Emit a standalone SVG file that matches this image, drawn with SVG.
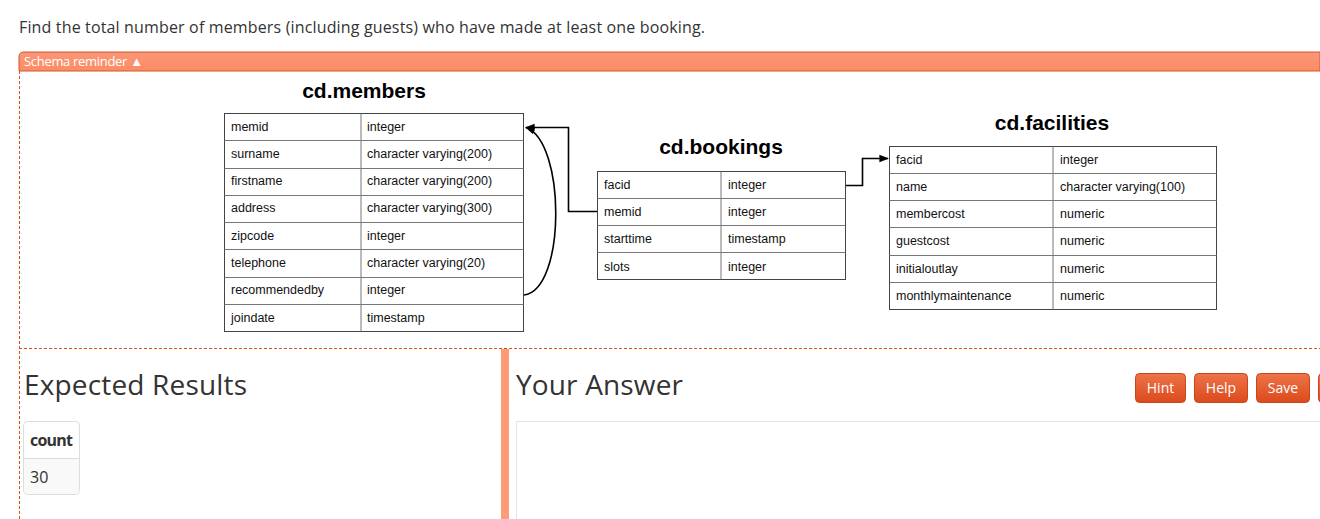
<svg xmlns="http://www.w3.org/2000/svg" width="1320" height="519" viewBox="0 0 1320 519">
<defs>
<style>
.ui{font-family:"Open Sans","Noto Sans",sans-serif;fill:#333}
.t{font-family:"Liberation Sans",Arial,sans-serif;font-size:12.5px;fill:#111}
.title{font-family:"Liberation Sans",Arial,sans-serif;font-size:21px;font-weight:bold;fill:#000;text-anchor:middle}
.tb{fill:#fff;stroke:#444;stroke-width:1}
.rl{stroke:#777;stroke-width:1}
.cn{fill:none;stroke:#000;stroke-width:1.6}
.btn{fill:url(#bg);stroke:#c8461a;stroke-width:1}
.bt{font-family:"Open Sans","Noto Sans",sans-serif;font-size:14px;fill:#fff;text-anchor:middle}
</style>
<linearGradient id="bg" x1="0" y1="0" x2="0" y2="1"><stop offset="0" stop-color="#ec7448"/><stop offset="1" stop-color="#dc4a1c"/></linearGradient>
<linearGradient id="hg" x1="0" y1="0" x2="0" y2="1"><stop offset="0" stop-color="#f9967a"/><stop offset="1" stop-color="#fd8c62"/></linearGradient>
<marker id="ar" viewBox="0 0 10 10" refX="9" refY="5" markerWidth="6" markerHeight="6" orient="auto"><path d="M0,1 L10,5 L0,9 z" fill="#000"/></marker>
</defs>
<rect width="1320" height="519" fill="#fff"/>
<text class="ui" x="19" y="33" font-size="16" textLength="686">Find the total number of members (including guests) who have made at least one booking.</text>
<path d="M19,71 V57 Q19,52 24,52 H1320 V71 Z" fill="url(#hg)" stroke="#d0582a" stroke-width="1"/>
<text x="24" y="66" font-family="'Open Sans','Noto Sans',sans-serif" font-size="13" fill="#fff" textLength="119">Schema reminder ▲</text>
<line x1="19.5" y1="71" x2="19.5" y2="519" stroke="#d9501e" stroke-dasharray="3,2"/>
<line x1="19" y1="348.5" x2="1320" y2="348.5" stroke="#d9501e" stroke-dasharray="3,2"/>

<g id="members">
<text class="title" x="364" y="98">cd.members</text>
<rect class="tb" x="224.5" y="113.5" width="299" height="218"/>
<g class="rl"><line x1="361" y1="113.5" x2="361" y2="331.5"/><line x1="224.5" y1="140.5" x2="523.5" y2="140.5"/><line x1="224.5" y1="168.5" x2="523.5" y2="168.5"/><line x1="224.5" y1="195.5" x2="523.5" y2="195.5"/><line x1="224.5" y1="222.5" x2="523.5" y2="222.5"/><line x1="224.5" y1="249.5" x2="523.5" y2="249.5"/><line x1="224.5" y1="277.5" x2="523.5" y2="277.5"/><line x1="224.5" y1="304.5" x2="523.5" y2="304.5"/></g>
<g class="t">
<text x="231" y="131">memid</text><text x="367" y="131">integer</text>
<text x="231" y="158">surname</text><text x="367" y="158">character varying(200)</text>
<text x="231" y="185">firstname</text><text x="367" y="185">character varying(200)</text>
<text x="231" y="212">address</text><text x="367" y="212">character varying(300)</text>
<text x="231" y="240">zipcode</text><text x="367" y="240">integer</text>
<text x="231" y="267">telephone</text><text x="367" y="267">character varying(20)</text>
<text x="231" y="294">recommendedby</text><text x="367" y="294">integer</text>
<text x="231" y="322">joindate</text><text x="367" y="322">timestamp</text>
</g>
</g>

<g id="bookings">
<text class="title" x="721" y="154">cd.bookings</text>
<rect class="tb" x="597.5" y="171.5" width="248" height="108"/>
<g class="rl"><line x1="721" y1="171.5" x2="721" y2="279.5"/><line x1="597.5" y1="198.5" x2="845.5" y2="198.5"/><line x1="597.5" y1="225.5" x2="845.5" y2="225.5"/><line x1="597.5" y1="252.5" x2="845.5" y2="252.5"/></g>
<g class="t">
<text x="604" y="189">facid</text><text x="728" y="189">integer</text>
<text x="604" y="216">memid</text><text x="728" y="216">integer</text>
<text x="604" y="243">starttime</text><text x="728" y="243">timestamp</text>
<text x="604" y="271">slots</text><text x="728" y="271">integer</text>
</g>
</g>

<g id="facilities">
<text class="title" x="1052" y="130">cd.facilities</text>
<rect class="tb" x="889.5" y="146.5" width="327" height="163"/>
<g class="rl"><line x1="1053" y1="146.5" x2="1053" y2="309.5"/><line x1="889.5" y1="173.5" x2="1216.5" y2="173.5"/><line x1="889.5" y1="200.5" x2="1216.5" y2="200.5"/><line x1="889.5" y1="227.5" x2="1216.5" y2="227.5"/><line x1="889.5" y1="255.5" x2="1216.5" y2="255.5"/><line x1="889.5" y1="282.5" x2="1216.5" y2="282.5"/></g>
<g class="t">
<text x="896" y="164">facid</text><text x="1060" y="164">integer</text>
<text x="896" y="191">name</text><text x="1060" y="191">character varying(100)</text>
<text x="896" y="218">membercost</text><text x="1060" y="218">numeric</text>
<text x="896" y="245">guestcost</text><text x="1060" y="245">numeric</text>
<text x="896" y="273">initialoutlay</text><text x="1060" y="273">numeric</text>
<text x="896" y="300">monthlymaintenance</text><text x="1060" y="300">numeric</text>
</g>
</g>

<g id="connectors">
<path class="cn" d="M597,211.5 H568.5 V127.5 H526" marker-end="url(#ar)"/>
<path class="cn" d="M524,295 C566,290 566,142 526,127.5" stroke-width="1.3" marker-end="url(#ar)"/>
<path class="cn" d="M846,185.5 H862.5 V158.5 H888" marker-end="url(#ar)"/>
</g>

<g id="expected">
<text class="ui" x="24" y="395" font-size="28" textLength="223">Expected Results</text>
<rect x="23.5" y="421.5" width="56" height="73" rx="4" fill="#fff" stroke="#ddd"/>
<path d="M24,458 H79 V490 Q79,494 75,494 H28 Q24,494 24,490 Z" fill="#f9f9f9"/>
<line x1="24" y1="458.5" x2="79" y2="458.5" stroke="#ddd"/>
<text class="ui" x="30" y="446" font-size="16" font-weight="bold" textLength="43">count</text>
<text class="ui" x="30" y="483" font-size="16">30</text>
</g>

<rect x="501" y="349" width="8" height="170" fill="#fd9a78"/>

<g id="answer">
<text class="ui" x="516" y="395" font-size="28" textLength="167">Your Answer</text>
<rect x="516.5" y="421.5" width="820" height="120" fill="#fff" stroke="#e5e5e5"/>
<g id="hint"><rect class="btn" x="1135.5" y="373.5" width="50" height="29" rx="4"/><text class="bt" x="1160.5" y="393">Hint</text></g>
<g id="help"><rect class="btn" x="1194.5" y="373.5" width="53" height="29" rx="4"/><text class="bt" x="1221" y="393">Help</text></g>
<g id="save"><rect class="btn" x="1256.5" y="373.5" width="53" height="29" rx="4"/><text class="bt" x="1283" y="393">Save</text></g>
<rect class="btn" x="1318.5" y="373.5" width="20" height="29" rx="4"/>
</g>
</svg>
